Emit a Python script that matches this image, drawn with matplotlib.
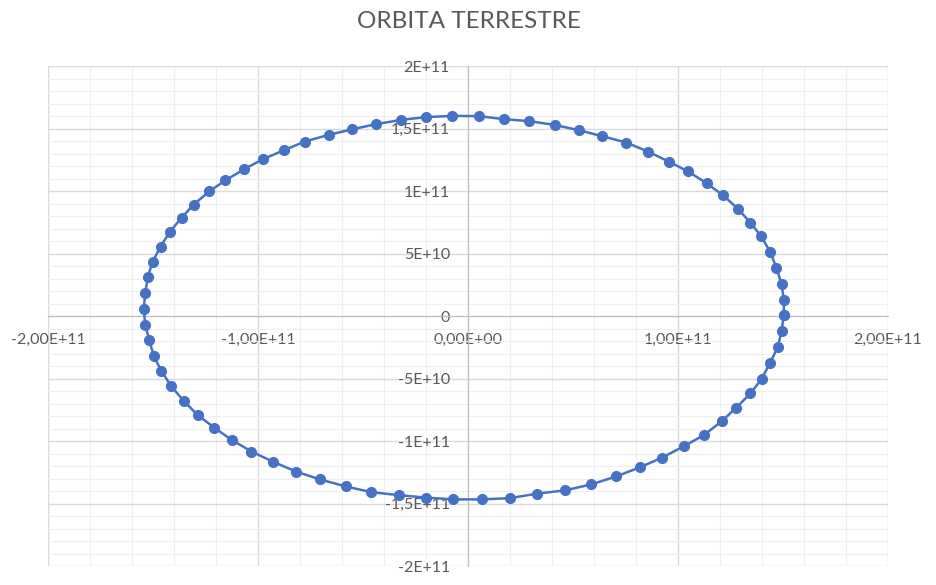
import numpy as np
import matplotlib.pyplot as plt
from matplotlib.ticker import MultipleLocator

# orbit positions (m), counter-clockwise from perihelion side
x_pos = [1.504, 1.504, 1.493, 1.469, 1.439, 1.396, 1.345, 1.285, 1.215, 1.136,
         1.047, 0.956, 0.858, 0.753, 0.640, 0.528, 0.412, 0.290, 0.170, 0.051,
         -0.075, -0.199, -0.318, -0.437, -0.551, -0.663, -0.777, -0.877, -0.977, -1.068,
         -1.155, -1.232, -1.306, -1.364, -1.420, -1.464, -1.502, -1.525, -1.537, -1.544,
         -1.537, -1.518, -1.496, -1.460, -1.413, -1.353, -1.287, -1.209, -1.126, -1.031,
         -0.930, -0.818, -0.706, -0.583, -0.461, -0.330, -0.199, -0.070, 0.069, 0.199,
         0.330, 0.461, 0.588, 0.706, 0.820, 0.925, 1.028, 1.123, 1.209, 1.277,
         1.345, 1.398, 1.439, 1.475, 1.493, 1.504]
y_pos = [0.007, 0.130, 0.256, 0.384, 0.513, 0.638, 0.746, 0.858, 0.965, 1.063,
         1.157, 1.235, 1.315, 1.388, 1.438, 1.486, 1.529, 1.559, 1.575, 1.599,
         1.601, 1.591, 1.569, 1.535, 1.494, 1.449, 1.396, 1.326, 1.254, 1.173,
         1.085, 0.997, 0.892, 0.786, 0.673, 0.555, 0.433, 0.312, 0.184, 0.058,
         -0.071, -0.191, -0.322, -0.440, -0.563, -0.681, -0.793, -0.892, -0.991, -1.084,
         -1.165, -1.245, -1.307, -1.363, -1.409, -1.433, -1.453, -1.467, -1.467, -1.457,
         -1.421, -1.395, -1.347, -1.283, -1.210, -1.132, -1.042, -0.953, -0.841, -0.734,
         -0.619, -0.504, -0.373, -0.250, -0.121, 0.007]
x_pos = np.array(x_pos) * 1e11
y_pos = np.array(y_pos) * 1e11

x_ticks = [-2e11, -1e11, 0, 1e11, 2e11]
x_labels = ["-2,00E+11", "-1,00E+11", "0,00E+00", "1,00E+11", "2,00E+11"]
y_ticks = [-2e11, -1.5e11, -1e11, -5e10, 0, 5e10, 1e11, 1.5e11, 2e11]
y_labels = ["-2E+11", "-1,5E+11", "-1E+11", "-5E+10", "0", "5E+10", "1E+11", "1,5E+11", "2E+11"]

plt.rcParams['font.family'] = ['Lato', 'DejaVu Sans']
txt = '#595959'

fig = plt.figure(figsize=(9.37, 5.85), dpi=100)
ax = fig.add_axes([48/937, 1-566/585, 840/937, 500/585])

ax.plot(x_pos, y_pos, '-o', color='#4472C4', lw=1.8, markersize=7, zorder=3)

ax.set_xlim(-2e11, 2e11)
ax.set_ylim(-2e11, 2e11)
ax.set_xticks(x_ticks)
ax.set_xticklabels(x_labels)
ax.set_yticks(y_ticks)
ax.set_yticklabels(y_labels)
ax.xaxis.set_minor_locator(MultipleLocator(2e10))
ax.yaxis.set_minor_locator(MultipleLocator(1e10))
ax.grid(which='major', color='#D9D9D9', lw=1.0, zorder=0)
ax.grid(which='minor', color='#EFEFEF', lw=0.8, zorder=0)
ax.set_axisbelow(True)

ax.spines['left'].set_position('zero')
ax.spines['bottom'].set_position('zero')
ax.spines['left'].set_color('#BFBFBF')
ax.spines['bottom'].set_color('#BFBFBF')
ax.spines['top'].set_visible(False)
ax.spines['right'].set_visible(False)
ax.tick_params(which='both', length=0)
ax.tick_params(axis='x', pad=12, labelsize=11.5, labelcolor=txt)
ax.tick_params(axis='y', pad=13, labelsize=11.5, labelcolor=txt)

fig.text(0.5, 1-22/585, "ORBITA TERRESTRE", ha='center', va='center',
         fontsize=17.5, color=txt)

fig.savefig("out.png", dpi=100)
